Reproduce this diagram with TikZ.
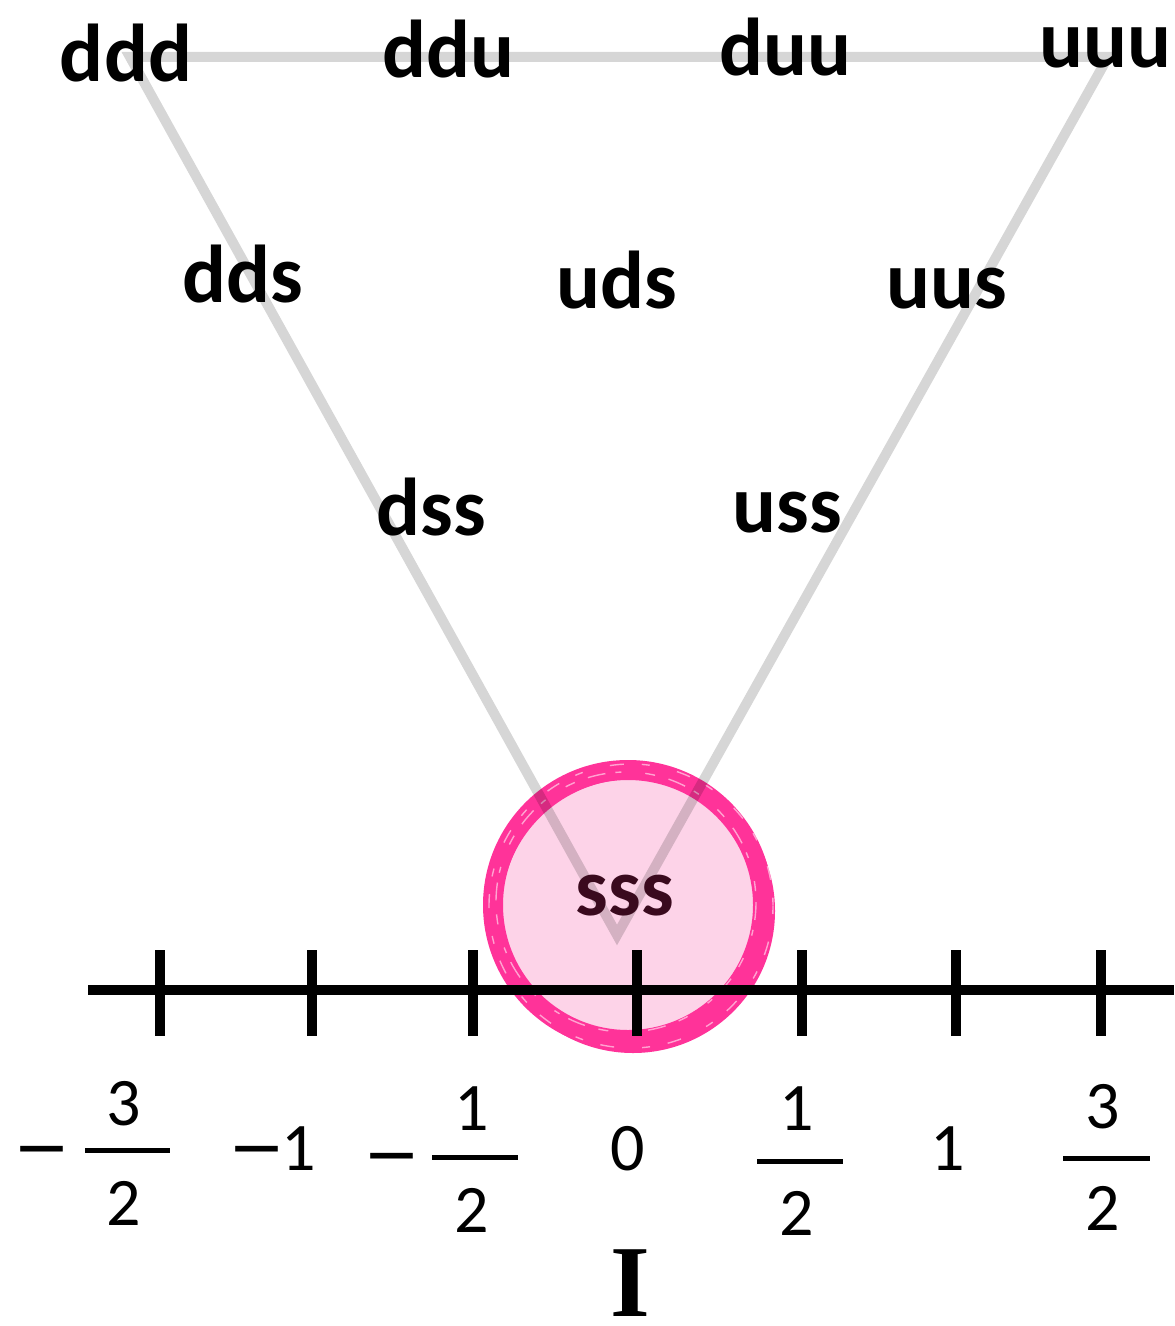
\documentclass[tikz,border=0pt]{standalone}
\usepackage{fontspec}
\setmainfont{Carlito}
\newfontfamily\serifI{Liberation Serif}
\newfontfamily\minusfont{DejaVu Sans}
\usetikzlibrary{%
	positioning,
	calc
}
\definecolor{tri}{HTML}{D6D6D6}
\definecolor{blob}{HTML}{FDD3E8}
\definecolor{rimpink}{HTML}{FF3399}
\definecolor{sssink}{HTML}{3A0A1E}
\newcommand{\mns}{{\minusfont −}}

\begin{document}
\begin{tikzpicture}[
		x=0.5pt,y=-0.5pt,
		QLabel/.style={inner sep=0pt,outer sep=0pt,anchor=base,font=\fontsize{41pt}{45pt}\selectfont\bfseries},
		numtext/.style={inner sep=0pt,outer sep=0pt,anchor=base,font=\fontsize{34pt}{38pt}\selectfont},
		fracbar/.style={line width=2.5pt},
		edge/.style={draw=tri,line width=5pt},
		axisline/.style={line width=5pt},
		tickmark/.style={line width=5pt},
		speck/.style={white,opacity=.55,line width=.7pt}
	]
	\useasboundingbox (0,0) rectangle (1174,1326);
	
		% corners of the triangle
		\coordinate (v-ddd) at (130,57);
		\coordinate (v-uuu) at (1108,57);
		\coordinate (v-sss) at (617,935);
		
		% the sss blob
		\node(blob) [circle,fill=blob,minimum size=140pt,inner sep=0pt] at (628,905) {};
		\draw [rimpink,line width=10pt] (blob.center) circle [radius=135];
		\draw [rimpink,line width=5pt] ($(blob.center)+(5,6)$) circle [radius=137];
		\draw [speck,dash pattern=on 9pt off 5pt on 3pt off 12pt on 5pt off 7pt] ($(blob.center)+(-2,-3)$) circle [radius=130];
		\draw [speck,dash pattern=on 4pt off 14pt on 7pt off 9pt] ($(blob.center)+(3,1)$) circle [radius=142];
		
		\begin{scope}[blend mode=multiply]
		\draw [edge] (v-ddd) -- (v-uuu) -- (v-sss) -- cycle;
		\end{scope}
		
		\node(ddd) [QLabel] at (126,82) {ddd};
		\node(ddu) [QLabel] at (448,78) {ddu};
		\node(duu) [QLabel] at (785,76) {duu};
		\node(uuu) [QLabel] at (1105,68) {uuu};
		\node(dds) [QLabel] at (243,303) {dds};
		\node(uds) [QLabel] at (617,308) {uds};
		\node(uus) [QLabel] at (947,308) {uus};
		\node(dss) [QLabel] at (431,535) {dss};
		\node(uss) [QLabel] at (787,532) {uss};
		\node(sss) [QLabel,text=sssink] at (625,915) {sss};
		
		% the I axis
		\coordinate (ax-l) at (88,990);
		\coordinate (ax-r) at (1174,990);
		\draw [axisline] (ax-l) -- (ax-r);
		\foreach \tx in {160,312,473,637,802,956,1101}
			\draw [tickmark] (\tx,950) -- (\tx,1036);
		
		\node(m32) [numtext] at (42,1170) {\mns};
		\node(n32) [numtext] at (124,1125) {3};
		\node(d32) [numtext] at (124,1225) {2};
		\draw [fracbar] (85,1150) -- (170,1150);
		
		\node(m1) [numtext] at (272,1170) {\mns\kern-2pt 1};
		
		\node(m12) [numtext] at (392,1177) {\mns};
		\node(n12) [numtext] at (472,1130) {1};
		\node(d12) [numtext] at (472,1232) {2};
		\draw [fracbar] (432,1157) -- (518,1157);
		
		\node(zero) [numtext] at (628,1170) {0};
		
		\node(n12p) [numtext] at (797,1130) {1};
		\node(d12p) [numtext] at (797,1235) {2};
		\draw [fracbar] (757,1161) -- (843,1161);
		
		\node(one) [numtext] at (948,1170) {1};
		
		\node(n32p) [numtext] at (1103,1128) {3};
		\node(d32p) [numtext] at (1103,1230) {2};
		\draw [fracbar] (1063,1158) -- (1150,1158);
		
		\node(isospin) [inner sep=0pt,anchor=base,font=\fontsize{51pt}{55pt}\selectfont\serifI\bfseries] at (630,1316) {I};
		
	\end{tikzpicture}
\end{document}
